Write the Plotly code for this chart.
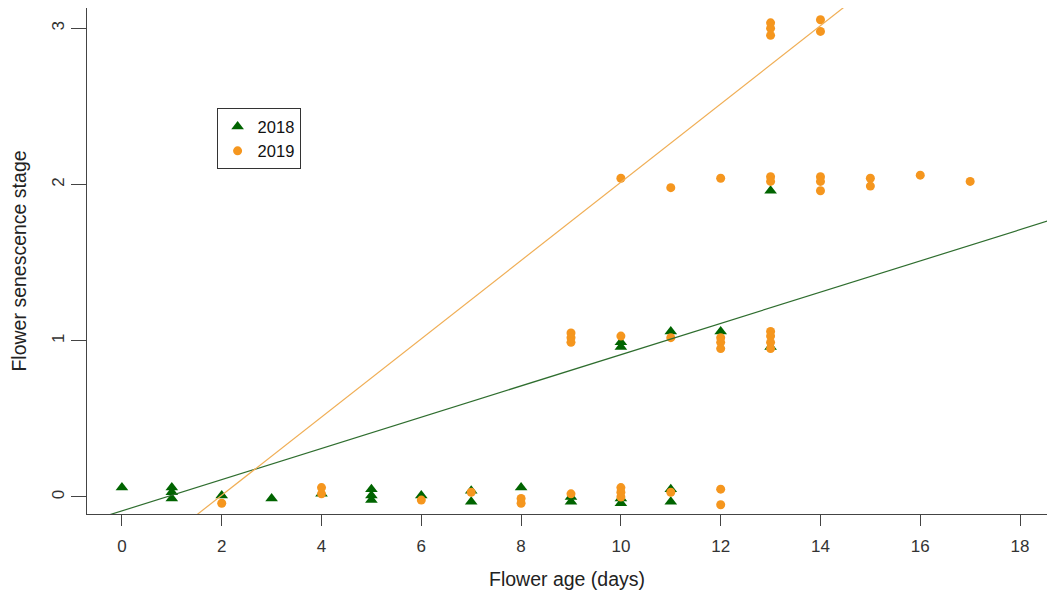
import plotly.graph_objects as go
import numpy as np

# ---- data ----
x_2018 = [0, 1, 1, 1, 2, 3, 4, 5, 5, 5, 6, 7, 7, 8, 9, 9, 10, 10, 11, 11,
          10, 10, 11, 12, 13, 13]
y_2018 = [0.06, 0.06, 0.03, -0.01, 0.01, -0.01, 0.02, 0.05, 0.01, -0.02, 0.01, 0.04, -0.03, 0.06, 0.0, -0.03,
          -0.01, -0.04, 0.05, -0.03,
          0.99, 0.96, 1.06, 1.06, 0.96, 1.96]

x_2019 = [2, 4, 4, 6, 7, 8, 8, 9, 10, 10, 10, 11, 12, 12,
          9, 9, 9, 10, 11, 12, 12, 12, 13, 13, 13, 13,
          10, 11, 12, 13, 13, 14, 14, 14, 15, 15, 16, 17,
          13, 13, 13, 14, 14]
y_2019 = [-0.04, 0.06, 0.02, -0.02, 0.03, -0.01, -0.04, 0.02, 0.06, 0.03, 0.0, 0.03, 0.05, -0.05,
          1.05, 1.02, 0.99, 1.03, 1.02, 1.02, 0.99, 0.95, 1.06, 1.03, 0.99, 0.95,
          2.04, 1.98, 2.04, 2.05, 2.02, 2.05, 2.02, 1.96, 2.04, 1.99, 2.06, 2.02,
          3.035, 3.0, 2.955, 3.055, 2.98]

# fitted lines (intercept, slope)
fit_2018 = (-0.089, 0.100)
fit_2019 = (-0.49, 0.2505)

x_ticks = [0, 2, 4, 6, 8, 10, 12, 14, 16, 18]
y_ticks = [0, 1, 2, 3]

GREEN = "#006400"
ORANGE = "#F5961E"
FONT = "Liberation Sans, Arial, sans-serif"

fig = go.Figure()
fig.add_trace(go.Scatter(x=x_2018, y=y_2018, mode="markers", name="2018",
                         marker=dict(symbol="triangle-up", size=11, color=GREEN)))
fig.add_trace(go.Scatter(x=x_2019, y=y_2019, mode="markers", name="2019",
                         marker=dict(symbol="circle", size=9, color=ORANGE)))

xl = np.array([-1.0, 20.0])
fig.add_trace(go.Scatter(x=xl, y=fit_2018[0] + fit_2018[1] * xl, mode="lines",
                         line=dict(color="#2F6E2F", width=1.2), showlegend=False, hoverinfo="skip"))
fig.add_trace(go.Scatter(x=xl, y=fit_2019[0] + fit_2019[1] * xl, mode="lines",
                         line=dict(color="#F0AE55", width=1.2), showlegend=False, hoverinfo="skip"))

fig.update_layout(
    width=1039, height=582,
    margin=dict(l=79, r=0, t=0, b=76),
    paper_bgcolor="white", plot_bgcolor="white",
    font=dict(family=FONT, size=17, color="#333333"),
    legend=dict(x=0.135, y=0.802, xanchor="left", yanchor="top",
                bordercolor="#333333", borderwidth=1, bgcolor="white",
                font=dict(size=16.5, color="#111111"),
                itemwidth=30, tracegroupgap=0),
    showlegend=True,
)
fig.update_xaxes(
    range=[-0.70, 18.54], tickvals=x_ticks, ticktext=[str(v) for v in x_ticks],
    showgrid=False, zeroline=False, showline=True, linecolor="#444444", linewidth=1,
    mirror=True, ticks="outside", ticklen=11, tickcolor="#444444",
    tickfont=dict(size=17, color="#333333"), ticklabelstandoff=6,
    title=dict(text="Flower age (days)", font=dict(size=19.5, color="#222222"), standoff=20),
)
fig.update_yaxes(
    range=[-0.109, 3.13], tickvals=y_ticks, ticktext=[str(v) for v in y_ticks],
    showgrid=False, zeroline=False, showline=True, linecolor="#444444", linewidth=1,
    mirror=False, ticks="outside", ticklen=15, tickcolor="#444444", tickangle=-90,
    tickfont=dict(size=17, color="#333333"),
    title=dict(text="Flower senescence stage", font=dict(size=19.5, color="#222222"), standoff=22),
)

fig.write_html("out.html")
